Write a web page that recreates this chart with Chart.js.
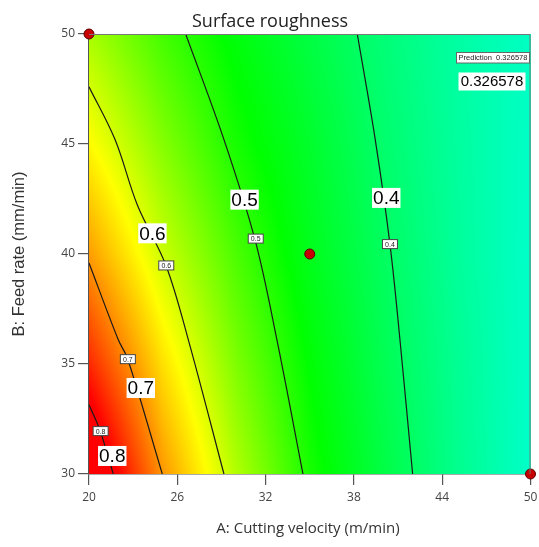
<!DOCTYPE html>
<html>
<head>
<meta charset="utf-8">
<script src="https://cdn.jsdelivr.net/npm/chart.js@4"></script>
<style>
  body { margin: 0; background: #fff; }
  canvas { display: block; }
</style>
</head>
<body>
<canvas id="chart-contorno" width="539" height="547"></canvas>
<script>
// values
const velocidade = [20, 25, 30, 35, 40, 45, 50];
const avanco = [30, 35, 40, 45, 50];
const rugosidade = [
  [0.865, 0.700, 0.585, 0.494, 0.427, 0.369, 0.322],
  [0.775, 0.651, 0.554, 0.478, 0.416, 0.365, 0.322],
  [0.696, 0.600, 0.524, 0.459, 0.406, 0.359, 0.322],
  [0.633, 0.558, 0.493, 0.446, 0.396, 0.356, 0.324],
  [0.579, 0.519, 0.471, 0.428, 0.387, 0.352, 0.327]
];

const contorno04 = [{ x: 38.23, y: 50 }, { x: 39.45, y: 45.2 }, { x: 40.45, y: 40.45 }, { x: 41.13, y: 36.1 }, { x: 41.99, y: 30 }];
const contorno05 = [{ x: 26.57, y: 50 }, { x: 29.17, y: 45.2 }, { x: 31.28, y: 40.65 }, { x: 32.77, y: 36.1 }, { x: 34.54, y: 30 }];
const contorno06 = [{ x: 20, y: 47.6 }, { x: 21.77, y: 45.2 }, { x: 23.3, y: 42.2 }, { x: 25.23, y: 39.48 }, { x: 26.75, y: 36.1 }, { x: 29.17, y: 30 }];
const contorno07 = [{ x: 20, y: 39.59 }, { x: 21.99, y: 36.1 }, { x: 22.63, y: 35.23 }, { x: 24.98, y: 30 }];
const contorno08 = [{ x: 20, y: 33.15 }, { x: 20.75, y: 31.98 }, { x: 21.65, y: 30 }];

const niveis = ["0.4", "0.5", "0.6", "0.7", "0.8"];
const rotulosGrandes = [{ x: 40.2, y: 42.55 }, { x: 30.57, y: 42.47 }, { x: 24.31, y: 40.94 }, { x: 23.52, y: 33.91 }, { x: 21.58, y: 30.82 }];
const rotulosPequenos = [{ x: 40.45, y: 40.45 }, { x: 31.33, y: 40.70 }, { x: 25.25, y: 39.48 }, { x: 22.64, y: 35.22 }, { x: 20.79, y: 31.95 }];

const pontosProjeto = [{ x: 20, y: 50 }, { x: 35, y: 40 }, { x: 50, y: 30 }];
const previsao = "0.326578";

const ticksX = [20, 26, 32, 38, 44, 50];
const ticksY = [30, 35, 40, 45, 50];

// escala de cores
const paradas = [
  [0.31, [0, 255, 216]],
  [0.48, [0, 255, 0]],
  [0.63, [255, 255, 0]],
  [0.80, [255, 0, 0]]
];

function corDoValor(v) {
  if (v <= paradas[0][0]) return paradas[0][1];
  for (let i = 1; i < paradas.length; i++) {
    if (v <= paradas[i][0]) {
      const a = paradas[i - 1], b = paradas[i];
      const t = (v - a[0]) / (b[0] - a[0]);
      return [0, 1, 2].map(k => a[1][k] + (b[1][k] - a[1][k]) * t);
    }
  }
  return paradas[paradas.length - 1][1];
}

function valorNaGrade(x, y) {
  let i = 0, j = 0;
  while (i < velocidade.length - 2 && x > velocidade[i + 1]) i++;
  while (j < avanco.length - 2 && y > avanco[j + 1]) j++;
  const tx = Math.min(1, Math.max(0, (x - velocidade[i]) / (velocidade[i + 1] - velocidade[i])));
  const ty = Math.min(1, Math.max(0, (y - avanco[j]) / (avanco[j + 1] - avanco[j])));
  const v00 = rugosidade[j][i], v10 = rugosidade[j][i + 1];
  const v01 = rugosidade[j + 1][i], v11 = rugosidade[j + 1][i + 1];
  return (v00 * (1 - tx) + v10 * tx) * (1 - ty) + (v01 * (1 - tx) + v11 * tx) * ty;
}

const fundoPlugin = {
  id: "fundo",
  beforeDatasetsDraw(chart) {
    const { ctx, chartArea: a, scales } = chart;
    const w = Math.round(a.right - a.left), h = Math.round(a.bottom - a.top);
    const off = document.createElement("canvas");
    off.width = w; off.height = h;
    const octx = off.getContext("2d");
    const img = octx.createImageData(w, h);
    for (let py = 0; py < h; py++) {
      const yv = scales.y.getValueForPixel(a.top + py + 0.5);
      for (let px = 0; px < w; px++) {
        const xv = scales.x.getValueForPixel(a.left + px + 0.5);
        const c = corDoValor(valorNaGrade(xv, yv));
        const idx = (py * w + px) * 4;
        img.data[idx] = c[0]; img.data[idx + 1] = c[1]; img.data[idx + 2] = c[2]; img.data[idx + 3] = 255;
      }
    }
    octx.putImageData(img, 0, 0);
    ctx.drawImage(off, a.left, a.top, a.right - a.left, a.bottom - a.top);
  }
};

const rotulosPlugin = {
  id: "rotulos",
  afterDatasetsDraw(chart) {
    const { ctx, chartArea: a, scales } = chart;
    ctx.save();
    ctx.textAlign = "center";
    ctx.textBaseline = "middle";

    // rotulos grandes
    ctx.font = "19px 'Liberation Sans', Arial";
    rotulosGrandes.forEach((p, i) => {
      const x = scales.x.getPixelForValue(p.x), y = scales.y.getPixelForValue(p.y);
      const tw = ctx.measureText(niveis[i]).width + 2;
      ctx.fillStyle = "#fff";
      ctx.fillRect(x - tw / 2, y - 10, tw, 20);
      ctx.fillStyle = "#000";
      ctx.fillText(niveis[i], x, y + 1);
    });

    // rotulos pequenos
    ctx.font = "7px 'Liberation Sans', Arial";
    rotulosPequenos.forEach((p, i) => {
      const x = scales.x.getPixelForValue(p.x), y = scales.y.getPixelForValue(p.y);
      ctx.fillStyle = "#fff";
      ctx.fillRect(x - 7.5, y - 4.5, 15, 9);
      ctx.strokeStyle = "#444";
      ctx.lineWidth = 1;
      ctx.strokeRect(x - 7.5, y - 4.5, 15, 9);
      ctx.fillStyle = "#222";
      ctx.fillText(niveis[i], x, y + 0.5);
    });

    // moldura superior e direita
    ctx.strokeStyle = "#777";
    ctx.lineWidth = 1;
    ctx.beginPath();
    ctx.moveTo(a.left, a.top + 0.5);
    ctx.lineTo(a.right - 0.5, a.top + 0.5);
    ctx.lineTo(a.right - 0.5, a.bottom);
    ctx.stroke();

    // caixa de previsao
    ctx.fillStyle = "#fff";
    ctx.fillRect(a.right - 74, a.top + 18.5, 73, 10.5);
    ctx.strokeStyle = "#666";
    ctx.strokeRect(a.right - 74, a.top + 18.5, 73, 10.5);
    ctx.fillStyle = "#222";
    ctx.font = "7.5px 'Liberation Sans', Arial";
    ctx.fillText("Prediction  " + previsao, a.right - 37.5, a.top + 24);

    ctx.fillStyle = "#fff";
    ctx.fillRect(a.right - 72, a.top + 38.5, 67, 18);
    ctx.fillStyle = "#000";
    ctx.font = "15px 'Liberation Sans', Arial";
    ctx.fillText(previsao, a.right - 38.5, a.top + 48);

    // titulos
    ctx.fillStyle = "#222";
    ctx.font = "18px 'Open Sans'";
    ctx.textBaseline = "alphabetic";
    ctx.fillText("Surface roughness", 270, 27);
    ctx.font = "15px 'Open Sans'";
    ctx.fillStyle = "#333";
    ctx.fillText("A: Cutting velocity (m/min)", 308, 533);

    ctx.translate(19, 254);
    ctx.rotate(-Math.PI / 2);
    ctx.textBaseline = "middle";
    ctx.font = "16.5px 'Liberation Sans', Arial";
    ctx.fillText("B: Feed rate (mm/min)", 0, 0);
    ctx.restore();
  }
};

function linhaContorno(dados) {
  return {
    data: dados,
    showLine: true,
    fill: false,
    tension: 0.35,
    borderColor: "#1a1a1a",
    borderWidth: 1.2,
    pointRadius: 0,
    order: 2
  };
}

const ctxContorno = document.getElementById("chart-contorno");

const chartContorno = new Chart(ctxContorno, {
  type: "scatter",
  data: {
    datasets: [
      linhaContorno(contorno04),
      linhaContorno(contorno05),
      linhaContorno(contorno06),
      linhaContorno(contorno07),
      linhaContorno(contorno08),
      {
        data: pontosProjeto,
        pointRadius: 5,
        backgroundColor: "#c80000",
        borderColor: "#5a0000",
        borderWidth: 1,
        clip: false,
        order: 0
      }
    ]
  },
  options: {
    responsive: false,
    animation: false,
    events: [],
    layout: { padding: { top: 34, right: 8.5, left: 0, bottom: 0 } },
    plugins: {
      legend: { display: false },
      tooltip: { enabled: false },
      title: { display: false }
    },
    scales: {
      x: {
        type: "linear",
        min: 20,
        max: 50,
        afterBuildTicks: s => { s.ticks = ticksX.map(v => ({ value: v })); },
        afterFit: s => { s.height = 73; s.paddingLeft = 0; s.paddingRight = 0; },
        ticks: { color: "#444", padding: 5, font: { family: "'Open Sans'", size: 12 } },
        grid: { drawOnChartArea: false, tickLength: 11, color: "#555", lineWidth: 1.2 },
        border: { color: "#555", width: 1.5 }
      },
      y: {
        type: "linear",
        min: 30,
        max: 50,
        afterBuildTicks: s => { s.ticks = ticksY.map(v => ({ value: v })); },
        afterFit: s => { s.width = 89; s.paddingTop = 0; s.paddingBottom = 0; },
        ticks: { color: "#444", padding: 3, font: { family: "'Open Sans'", size: 12 } },
        grid: { drawOnChartArea: false, tickLength: 11, color: "#555", lineWidth: 1.2 },
        border: { color: "#555", width: 1.5 }
      }
    }
  },
  plugins: [fundoPlugin, rotulosPlugin]
});
</script>
</body>
</html>
